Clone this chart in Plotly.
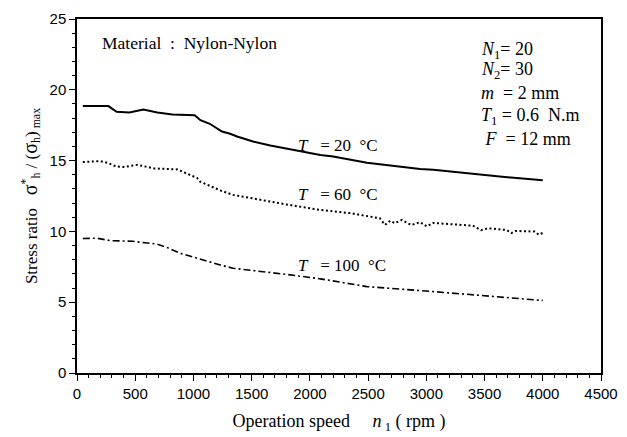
import plotly.graph_objects as go

# Operation speed n1 (rpm) and stress ratio for each temperature
speed_20 = [50, 270, 340, 450, 570, 690, 820, 1010, 1060, 1140, 1245, 1315, 1375,
            1512, 1660, 1860, 2090, 2200, 2490, 2946, 3060, 3630, 4000]
ratio_20 = [18.85, 18.85, 18.45, 18.4, 18.6, 18.4, 18.25, 18.2, 17.85, 17.6, 17.05,
            16.9, 16.7, 16.35, 16.06, 15.76, 15.4, 15.29, 14.85, 14.4, 14.35, 13.87, 13.62]

speed_60 = [50, 200, 260, 330, 400, 520, 660, 860, 910, 1030, 1060, 1230, 1340, 1485,
            1640, 1800, 2060, 2345, 2600, 2645, 2690, 2730, 2790, 2870, 2946, 3005,
            3060, 3400, 3470, 3530, 3690, 3730, 3770, 3930, 3965, 4010]
ratio_60 = [14.9, 14.96, 14.85, 14.6, 14.55, 14.7, 14.45, 14.38, 14.2, 13.78, 13.5,
            12.9, 12.58, 12.35, 12.14, 11.9, 11.55, 11.29, 10.93, 10.46, 10.75, 10.58,
            10.81, 10.45, 10.65, 10.35, 10.6, 10.4, 10.08, 10.22, 10.1, 9.88, 10.03,
            9.99, 9.77, 9.93]

speed_100 = [50, 170, 285, 480, 690, 770, 885, 1055, 1230, 1340, 1600, 1830, 2090,
             2490, 3060, 3630, 4000]
ratio_100 = [9.5, 9.52, 9.35, 9.3, 9.1, 8.88, 8.46, 8.04, 7.63, 7.4, 7.16, 6.93, 6.65,
             6.1, 5.75, 5.39, 5.12]

x_ticks = [0, 500, 1000, 1500, 2000, 2500, 3000, 3500, 4000, 4500]
y_ticks = [0, 5, 10, 15, 20, 25]

SERIF = "Liberation Serif"
SANS = "Liberation Sans"
NB = "\u00a0"

fig = go.Figure()
fig.add_trace(go.Scatter(x=speed_20, y=ratio_20, mode="lines",
                         line=dict(color="black", width=2, dash="solid")))
fig.add_trace(go.Scatter(x=speed_60, y=ratio_60, mode="lines",
                         line=dict(color="black", width=2, dash="2px,2.5px")))
fig.add_trace(go.Scatter(x=speed_100, y=ratio_100, mode="lines",
                         line=dict(color="black", width=1.6, dash="7px,3px,2px,3px")))

ann = []
def add(text, x, y, size=18):
    ann.append(dict(text=text, x=x, y=y, xref="x", yref="y", xanchor="left",
                    yanchor="middle", showarrow=False,
                    font=dict(family=SERIF, size=size, color="black")))

add(f"Material{NB}{NB}:{NB}{NB}Nylon-Nylon", 195, 23.3, 17.5)
add("<i>N</i><sub>1</sub>= 20", 3450, 22.8)
add("<i>N</i><sub>2</sub>= 30", 3450, 21.35)
add(f"<i>m</i>{NB} = 2 mm", 3450, 19.75)
add(f"<i>T</i><sub>1</sub> = 0.6{NB} N.m", 3450, 18.15)
add(f"{NB}<i>F</i>{NB} = 12 mm", 3450, 16.5)
add(f"<i>T</i>{NB}{NB} = 20 {NB}°C", 1880, 16.1, 17)
add(f"<i>T</i>{NB}{NB} = 60 {NB}°C", 1880, 12.6, 17)
add(f"<i>T</i>{NB}{NB} = 100 {NB}°C", 1880, 7.6, 17)

axis_common = dict(showline=True, linecolor="black", linewidth=1.5, mirror=True,
                   ticks="outside", ticklen=6, tickwidth=1.2, tickcolor="black",
                   showgrid=False, zeroline=False, automargin=False,
                   tickfont=dict(family=SANS, size=15, color="black"))

fig.update_xaxes(range=[0, 4500], tickvals=x_ticks, ticktext=[str(v) for v in x_ticks],
                 minor=dict(dtick=100, ticklen=3, ticks="outside", tickcolor="black"),
                 title=dict(text=f"Operation speed{NB*5}<i>n</i><sub> 1</sub>{NB}( rpm )",
                            font=dict(family=SERIF, size=18, color="black"), standoff=14),
                 **axis_common)
fig.update_yaxes(range=[0, 25], tickvals=y_ticks, ticktext=[str(v) for v in y_ticks],
                 minor=dict(dtick=1, ticklen=3, ticks="outside", tickcolor="black"),
                 title=dict(text=f"Stress ratio{NB*2} <span style='font-size:20px'>σ</span><sup>*</sup><sub>h</sub>{NB}/{NB}(<span style='font-size:20px'>σ</span><sub>h</sub>)<sub> max</sub>",
                            font=dict(family=SERIF, size=17, color="black"), standoff=8),
                 **axis_common)

fig.update_layout(width=627, height=437, showlegend=False,
                  margin=dict(l=77, r=26, t=19, b=64),
                  paper_bgcolor="white", plot_bgcolor="white",
                  annotations=ann)

fig.write_html("out.html")
